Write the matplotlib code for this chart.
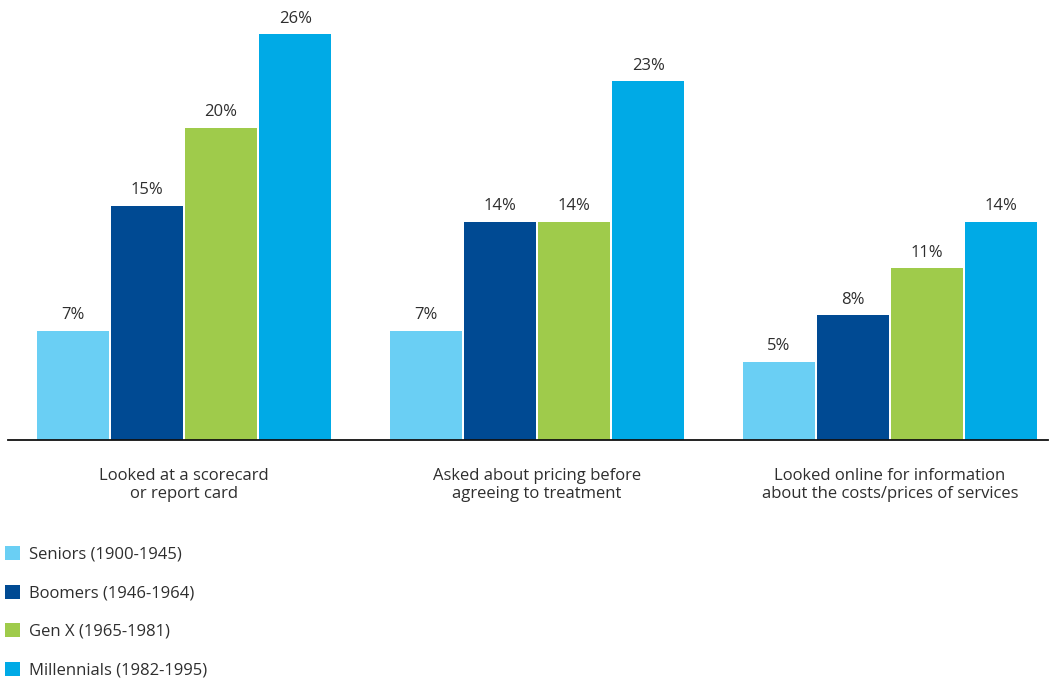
import numpy as np
import matplotlib.pyplot as plt
from matplotlib.patches import Patch

plt.rcParams['font.family'] = ['Open Sans', 'DejaVu Sans']

categories = ["Looked at a scorecard\nor report card",
              "Asked about pricing before\nagreeing to treatment",
              "Looked online for information\nabout the costs/prices of services"]
series = ["Seniors (1900-1945)", "Boomers (1946-1964)",
          "Gen X (1965-1981)", "Millennials (1982-1995)"]
seniors = [7, 7, 5]
boomers = [15, 14, 8]
genx = [20, 14, 11]
millennials = [26, 23, 14]
colors = ["#6ACFF4", "#004A93", "#9FCB4B", "#00AAE6"]

values = [seniors, boomers, genx, millennials]
txt = "#2e2e2e"

fig = plt.figure(figsize=(10.49, 6.79), dpi=100)
ax = fig.add_axes([8 / 1049, 1 - 440 / 679, 1040 / 1049, 440 / 679])

x = np.arange(len(categories))
pitch = 0.21
width = 0.204
for i, (vals, col) in enumerate(zip(values, colors)):
    pos = x + (i - 1.5) * pitch
    bars = ax.bar(pos, vals, width, color=col, label=series[i])
    for b, v in zip(bars, vals):
        ax.annotate(f"{v}%", (b.get_x() + b.get_width() / 2, v),
                    xytext=(0, 5.5), textcoords="offset points",
                    ha="center", va="bottom", fontsize=12, color=txt)

ax.set_xlim(-0.4986, -0.4986 + 1040 / 353)
ax.set_ylim(0, 440 / 15.6)
ax.set_xticks(x)
ax.set_xticklabels(categories, fontsize=12, color=txt, linespacing=1.2)
ax.tick_params(axis="x", length=0, pad=20)
ax.set_yticks([])
for s in ["top", "right", "left"]:
    ax.spines[s].set_visible(False)
ax.spines["bottom"].set_color("#111111")
ax.spines["bottom"].set_linewidth(1.3)

handles = [Patch(facecolor=c, label=s) for c, s in zip(colors, series)]
fig.legend(handles=handles, loc="upper left", bbox_to_anchor=(0.0, 1 - 541 / 679),
           frameon=False, fontsize=12, handlelength=0.9, handleheight=0.9,
           handletextpad=0.55, labelspacing=1.32, borderaxespad=0, borderpad=0.3,
           labelcolor=txt)

fig.savefig("out.png", dpi=100)
